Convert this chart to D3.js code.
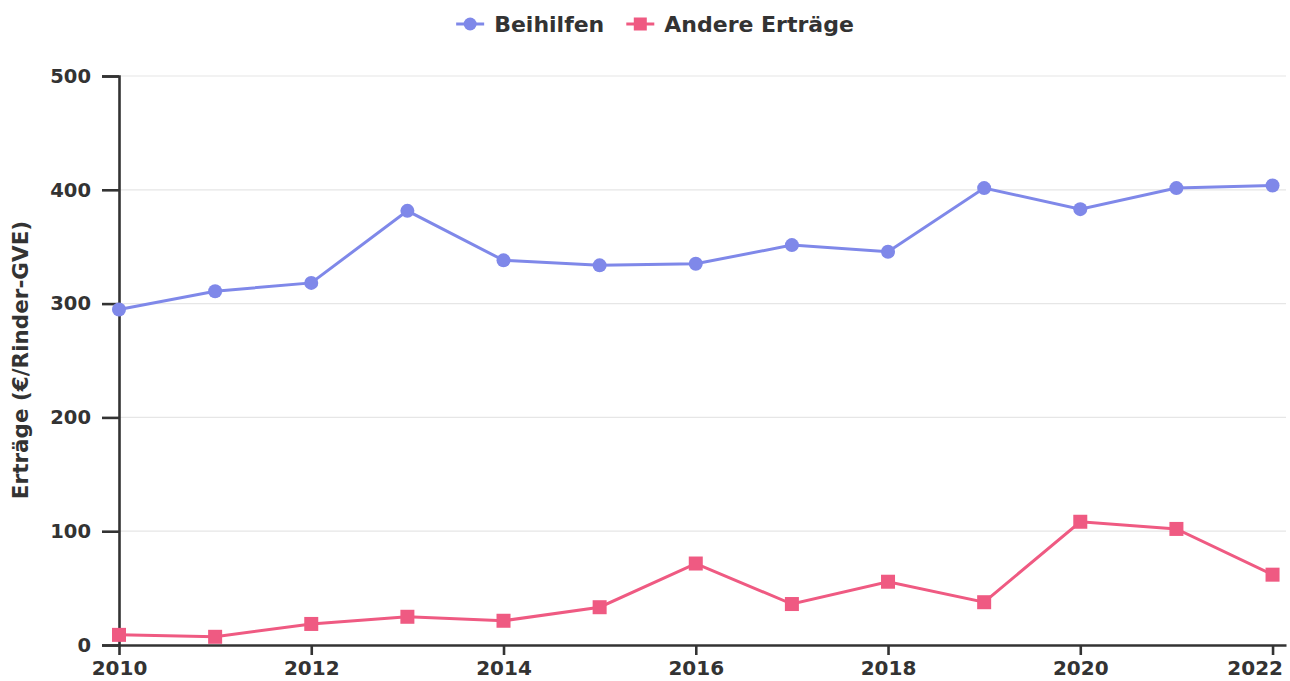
<!DOCTYPE html>
<html>
<head>
<meta charset="utf-8">
<script src="https://cdn.jsdelivr.net/npm/d3@7"></script>
<style>
  html, body { margin: 0; padding: 0; background: #fff; }
  svg { display: block; font-family: "DejaVu Sans", sans-serif; font-weight: bold; }
</style>
</head>
<body>
<svg id="chart" width="1290" height="681"></svg>
<script>
const years = [2010, 2011, 2012, 2013, 2014, 2015, 2016, 2017, 2018, 2019, 2020, 2021, 2022];
const beihilfen = [294.8, 310.9, 318.2, 381.5, 338.0, 333.6, 335.0, 351.4, 345.6, 401.5, 383.0, 401.5, 403.8];
const andereErtraege = [8.9, 7.2, 18.5, 24.8, 21.3, 33.2, 71.6, 36.0, 55.6, 37.6, 108.3, 102.0, 61.8];
const seriesNames = ["Beihilfen", "Andere Erträge"];
const seriesColors = ["#7f88e9", "#ef5a82"];
const yTicks = [0, 100, 200, 300, 400, 500];
const xTicks = [2010, 2012, 2014, 2016, 2018, 2020, 2022];
const yTitle = "Erträge (€/Rinder-GVE)";

(function() {
const svg = d3.select("#chart");
const mLeft = 119, mRight = 1286, mTop = 76, mBottom = 645;

const x = d3.scaleLinear().domain([2010, 2022.14]).range([mLeft, mRight]);
const y = d3.scaleLinear().domain([0, 500]).range([mBottom, mTop]);

// gridlines
svg.append("g").selectAll("line").data(yTicks.filter(d => d > 0)).join("line")
  .attr("x1", mLeft).attr("x2", mRight)
  .attr("y1", d => y(d)).attr("y2", d => y(d))
  .attr("stroke", "#e6e6e6").attr("stroke-width", 1.2);

// axes
const yAxis = svg.append("g").attr("transform", `translate(${mLeft},0)`)
  .call(d3.axisLeft(y).tickValues(yTicks).tickSize(17).tickPadding(11).tickFormat(d3.format("d")));
const xAxis = svg.append("g").attr("transform", `translate(0,${mBottom})`)
  .call(d3.axisBottom(x).tickValues(xTicks).tickSize(10).tickSizeOuter(0).tickPadding(6).tickFormat(d3.format("d")));

[yAxis, xAxis].forEach(g => {
  g.selectAll("path.domain").attr("stroke", "#333").attr("stroke-width", 2.6);
  g.selectAll(".tick line").attr("stroke", "#333").attr("stroke-width", 2.6);
  g.selectAll(".tick text").attr("fill", "#333")
    .attr("font-family", "DejaVu Sans").attr("font-weight", "bold");
});
yAxis.selectAll(".tick text").attr("font-size", 19.5);
xAxis.selectAll(".tick text").attr("font-size", 20);
// keep the last x label inside the frame
xAxis.selectAll(".tick text").filter(d => d === xTicks[xTicks.length - 1])
  .attr("text-anchor", "end").attr("x", 10);

// y title
svg.append("text")
  .attr("transform", `translate(28,360) rotate(-90)`)
  .attr("text-anchor", "middle")
  .attr("fill", "#333").attr("font-size", 21.5)
  .text(yTitle);

// lines + markers
const data = [beihilfen, andereErtraege];
const line = d3.line().x((d, i) => x(years[i])).y(d => y(d));
data.forEach((vals, si) => {
  svg.append("path").datum(vals)
    .attr("d", line).attr("fill", "none")
    .attr("stroke", seriesColors[si]).attr("stroke-width", 3);
});
svg.append("g").selectAll("circle").data(beihilfen).join("circle")
  .attr("cx", (d, i) => x(years[i])).attr("cy", d => y(d)).attr("r", 7)
  .attr("fill", seriesColors[0]);
svg.append("g").selectAll("rect").data(andereErtraege).join("rect")
  .attr("x", (d, i) => x(years[i]) - 7).attr("y", d => y(d) - 7)
  .attr("width", 14).attr("height", 14)
  .attr("fill", seriesColors[1]);

// legend
const legend = svg.append("g");
const items = legend.selectAll("g").data(seriesNames).join("g");
items.append("line").attr("x1", 0).attr("x2", 28).attr("y1", 0).attr("y2", 0)
  .attr("stroke", (d, i) => seriesColors[i]).attr("stroke-width", 3);
items.each(function(d, i) {
  const g = d3.select(this);
  if (i === 0) g.append("circle").attr("cx", 14).attr("cy", 0).attr("r", 6.5).attr("fill", seriesColors[0]);
  else g.append("rect").attr("x", 7.5).attr("y", -6.5).attr("width", 13).attr("height", 13).attr("fill", seriesColors[1]);
});
items.append("text").attr("x", 38).attr("y", 0).attr("dy", "0.35em")
  .attr("fill", "#333").attr("font-size", 22).text(d => d);
const widths = [];
items.each(function() { widths.push(this.getBBox().width); });
const gap = 22;
const total = d3.sum(widths) + gap * (widths.length - 1);
const startX = 655 - total / 2;
items.attr("transform", (d, i) => {
  const tx = startX + d3.sum(widths.slice(0, i)) + gap * i;
  return `translate(${tx},24)`;
});
})();
</script>
</body>
</html>
